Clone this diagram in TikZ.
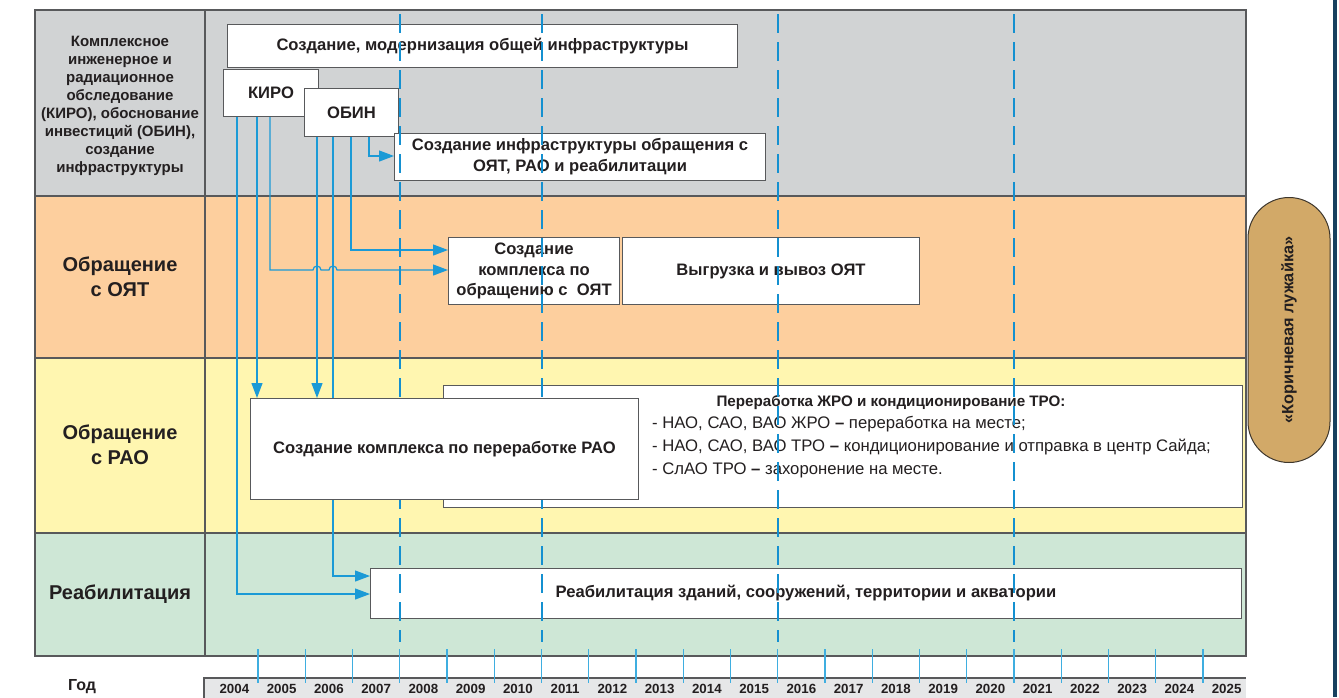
\documentclass[tikz,border=0pt]{standalone}
\usepackage{fontspec}
\setmainfont{Liberation Sans}
\usetikzlibrary{arrows.meta}
\definecolor{pgray}{HTML}{D1D3D4}
\definecolor{porange}{HTML}{FDCF9E}
\definecolor{pyellow}{HTML}{FFF6B0}
\definecolor{pgreen}{HTML}{CEE7D6}
\definecolor{framec}{HTML}{58595B}
\definecolor{txt}{HTML}{231F20}
\definecolor{conc}{HTML}{1B9AD6}
\definecolor{dashc}{HTML}{1490D0}
\definecolor{tickc}{HTML}{3FAEE0}
\definecolor{stripc}{HTML}{E6E7E8}
\definecolor{ovalc}{HTML}{D2A968}
\definecolor{ovalb}{HTML}{3D362C}
\definecolor{navy}{HTML}{17415F}
\begin{document}
\begin{tikzpicture}[x=1pt,y=-1pt,
  frame/.style={draw=framec,line width=1.1pt},
  box/.style={draw=framec,fill=white,line width=1pt,anchor=north west,inner sep=0pt,
    align=center,text=txt,font=\bfseries\fontsize{16.6}{20.8}\selectfont},
  lab/.style={align=center,text=txt,font=\bfseries\fontsize{15}{18}\selectfont},
  labbig/.style={align=center,text=txt,font=\bfseries\fontsize{20}{24.5}\selectfont},
  conn/.style={draw=conc,line width=1.2pt,-{Triangle[length=15pt,width=11pt]}},
  bigdash/.style={draw=dashc,line width=2pt,dash pattern=on 19pt off 9pt},
  tick/.style={draw=tickc,line width=1.2pt},
  yr/.style={text=txt,font=\bfseries\fontsize{13.3}{15}\selectfont},
  bullet/.style={anchor=west,text=txt,inner sep=0pt,font=\fontsize{16.7}{19}\selectfont},
]
\useasboundingbox (0,0) rectangle (1339,697);
% rows
\fill[pgray] (35,10) rectangle (1246,196);
\fill[porange] (35,196) rectangle (1246,358);
\fill[pyellow] (35,358) rectangle (1246,533);
\fill[pgreen] (35,533) rectangle (1246,656);
\draw[frame] (35,10) rectangle (1246,656);
\draw[frame] (35,196) -- (1246,196);
\draw[frame] (35,358) -- (1246,358);
\draw[frame] (35,533) -- (1246,533);
\draw[frame] (205,10) -- (205,656);
% row labels
\node[lab] (l1) at (120,106) {Комплексное\\инженерное и\\радиационное\\обследование\\(КИРО), обоснование\\инвестиций (ОБИН),\\создание\\инфраструктуры};
\node[labbig] (l2) at (120,277) {Обращение\\с ОЯТ};
\node[labbig] (l3) at (120,445) {Обращение\\с РАО};
\node[labbig] (l4) at (120,594) {Реабилитация};
% boxes
\node[box,minimum width=510pt,minimum height=43pt] (top) at (227,24) {Создание, модернизация общей инфраструктуры};
\node[box,minimum width=95pt,minimum height=47pt] (kiro) at (223,69) {КИРО};
\node[box,minimum width=94pt,minimum height=48pt] (obin) at (304,88) {ОБИН};
\node[box,minimum width=371pt,minimum height=47pt] (infra) at (394,133) {Создание инфраструктуры обращения с\\ОЯТ, РАО и реабилитации};
\node[box,minimum width=171pt,minimum height=67pt,font=\bfseries\fontsize{16.6}{20.3}\selectfont] (oyat) at (448,237) {Создание\\комплекса по\\обращению с~~ОЯТ};
\node[box,minimum width=297pt,minimum height=67pt] (vygr) at (622,237) {Выгрузка и вывоз ОЯТ};
\node[box,minimum width=799pt,minimum height=122pt] (zhro) at (443,385) {};
\node[box,minimum width=871pt,minimum height=50pt] (reab) at (370,568) {Реабилитация зданий, сооружений, территории и акватории};
% text of the big box
\node[text=txt,inner sep=0pt,font=\bfseries\fontsize{15.2}{18}\selectfont] (zt) at (891,402) {Переработка ЖРО и кондиционирование ТРО:};
\node[bullet] (z1) at (652,424) {- НАО, САО, ВАО ЖРО \textbf{–} переработка на месте;};
\node[bullet] (z2) at (652,447) {- НАО, САО, ВАО ТРО \textbf{–} кондиционирование и отправка в центр Сайда;};
\node[bullet] (z3) at (652,470) {- СлАО ТРО \textbf{–} захоронение на месте.};
% connectors
\draw[conn] (kiro.south -| 237,0) |- (reab.west |- 0,594);
\draw[conn] (kiro.south -| 257,0) -- (257,398);
\draw[conn] (kiro.south -| 270,0) -- (270,270) -- (313,270)
   arc[start angle=180,end angle=0,radius=4pt] -- (329,270)
   arc[start angle=180,end angle=0,radius=4pt] -- (oyat.west |- 0,270);
\draw[conn] (obin.south -| 317,0) -- (317,398);
\draw[conn] (obin.south -| 333,0) |- (reab.west |- 0,576);
\draw[conn] (obin.south -| 351,0) |- (oyat.west |- 0,250);
\draw[conn] (obin.south -| 369,0) |- (infra.west |- 0,156);
% major dashed year lines
\foreach \k in {4,7,12,17}{
  \draw[bigdash] ({210.75+47.25*\k},14) -- ({210.75+47.25*\k},642);
}
% box over the dashed lines
\node[box,minimum width=388pt,minimum height=101pt] (rao) at (250,398) {Создание комплекса по переработке РАО};
% year strip
\fill[stripc] (204,678) rectangle (1246,700);
\draw[draw=framec,line width=1.1pt] (204,700) -- (204,678) -- (1246,678);
\foreach \k in {1,...,21}{
  \draw[tick] ({210.75+47.25*\k},649) -- ({210.75+47.25*\k},683);
}
\foreach \k in {0,...,21}{
  \pgfmathtruncatemacro{\yy}{2004+\k}
  \node[yr] (y\k) at ({210.75+47.25*(\k+0.5)},689) {\yy};
}
\node[text=txt,font=\bfseries\fontsize{16}{18}\selectfont] (god) at (82,687) {Год};
% oval
\node[draw=ovalb,fill=ovalc,line width=1pt,rounded corners=41pt,minimum width=82pt,minimum height=265pt,inner sep=0pt] (oval) at (1289,330) {};
\node[rotate=90,text=txt,font=\bfseries\fontsize{16.3}{20}\selectfont] (ovt) at (oval.center) {«Коричневая лужайка»};
% right edge line
\fill[navy] (1333,0) rectangle (1337,697);
\end{tikzpicture}
\end{document}
